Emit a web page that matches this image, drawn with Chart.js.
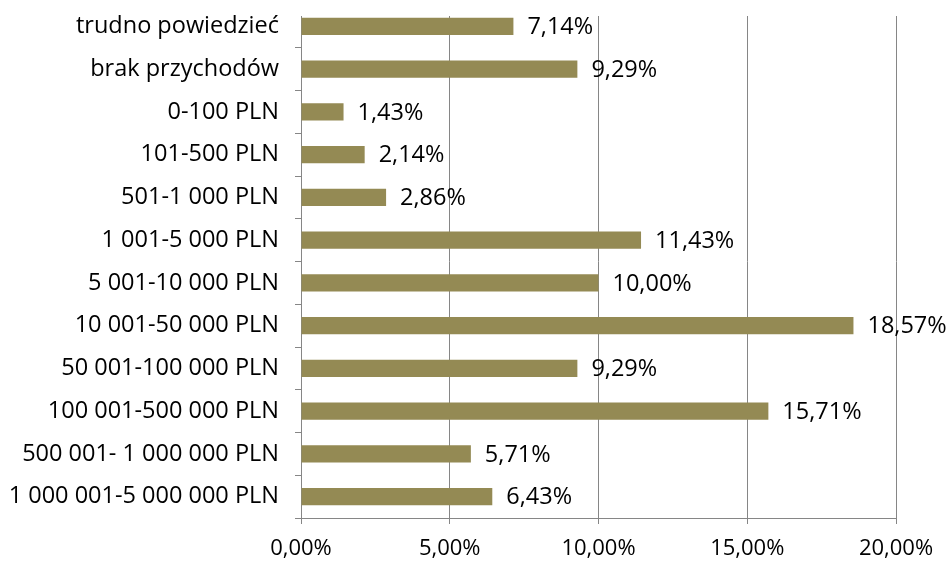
<!DOCTYPE html>
<html>
<head>
    <meta charset="utf-8">
    <script src="https://cdn.jsdelivr.net/npm/chart.js"></script>
    <title>Przychody</title>
    <style>
        body { margin: 0; background: #fff; }
        #wrap { width: 947px; height: 562px; }
    </style>
</head>
<body>
    <div id="wrap"><canvas id="chart"></canvas></div>
    <script>
        const categories = [
            'trudno powiedzieć',
            'brak przychodów',
            '0-100 PLN',
            '101-500 PLN',
            '501-1 000 PLN',
            '1 001-5 000 PLN',
            '5 001-10 000 PLN',
            '10 001-50 000 PLN',
            '50 001-100 000 PLN',
            '100 001-500 000 PLN',
            '500 001- 1 000 000 PLN',
            '1 000 001-5 000 000 PLN'
        ]
        const shares = [7.14, 9.29, 1.43, 2.14, 2.86, 11.43, 10.00, 18.57, 9.29, 15.71, 5.71, 6.43]
        const xTicks = [0, 5, 10, 15, 20]

        const fmt = v => v.toFixed(2).replace('.', ',') + '%'
        const tickFont = { family: 'Open Sans', size: 22 }
        const catFont = { family: 'Open Sans', size: 23.5 }
        const valFont = { family: 'Open Sans', size: 23.5 }

        // value labels to the right of each bar
        const valueLabels = {
            id: 'valueLabels',
            beforeDatasetsDraw(chart) {
                // plot area in the original starts a bit below the first band
                const a = chart.chartArea
                const ctx = chart.ctx
                ctx.save()
                ctx.fillStyle = '#fff'
                ctx.fillRect(a.left - 12, a.top - 1, a.right - a.left + 14, 12)
                ctx.restore()
            },
            afterDatasetsDraw(chart) {
                const ctx = chart.ctx
                const meta = chart.getDatasetMeta(0)
                ctx.save()
                ctx.font = valFont.size + 'px ' + valFont.family
                ctx.fillStyle = '#000'
                ctx.textAlign = 'left'
                ctx.textBaseline = 'middle'
                meta.data.forEach(function (bar, i) {
                    ctx.fillText(fmt(shares[i]), bar.x + 14, bar.y + 1)
                })
                ctx.restore()
            }
        }

        new Chart(document.getElementById('chart'), {
            type: 'bar',
            data: {
                labels: categories,
                datasets: [{
                    data: shares,
                    backgroundColor: '#948A54',
                    borderWidth: 0,
                    barPercentage: 0.4,
                    categoryPercentage: 1
                }]
            },
            options: {
                indexAxis: 'y',
                responsive: true,
                maintainAspectRatio: false,
                animation: false,
                layout: { padding: { top: 5, right: 51, left: 0, bottom: 0 } },
                plugins: {
                    legend: { display: false },
                    tooltip: { enabled: false }
                },
                scales: {
                    x: {
                        min: 0,
                        max: 20,
                        afterBuildTicks: s => { s.ticks = xTicks.map(v => ({ value: v })) },
                        afterFit: s => { s.height = 44 },
                        ticks: {
                            callback: v => fmt(v),
                            color: '#000',
                            font: tickFont,
                            padding: 12,
                            maxRotation: 0
                        },
                        grid: {
                            color: '#868686',
                            lineWidth: 1,
                            tickLength: 6
                        },
                        border: { color: '#868686' }
                    },
                    y: {
                        afterFit: s => {
                            s.width = 301
                            s.paddingTop = 0
                            s.paddingBottom = 0
                        },
                        ticks: {
                            color: '#000',
                            font: catFont,
                            padding: 16
                        },
                        grid: {
                            drawOnChartArea: false,
                            color: '#868686',
                            tickLength: 6
                        },
                        border: { color: '#868686' }
                    }
                }
            },
            plugins: [valueLabels]
        })
    </script>
</body>
</html>
